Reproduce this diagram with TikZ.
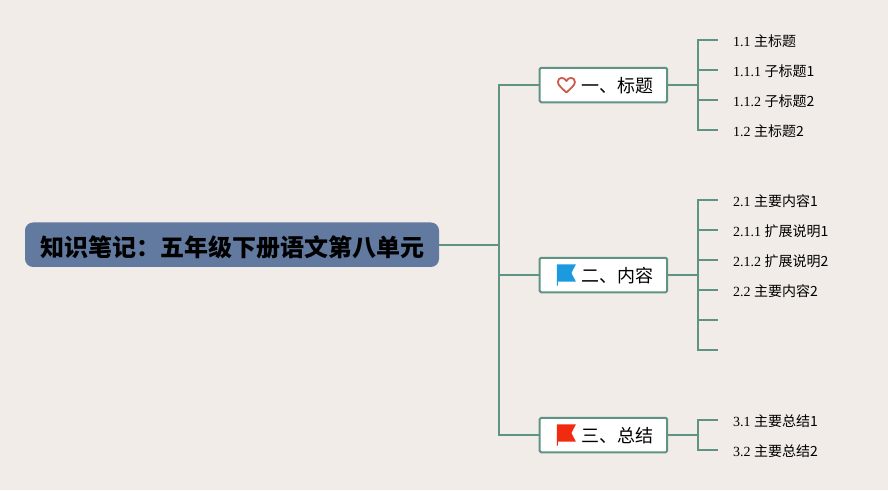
\documentclass[tikz,border=0pt]{standalone}
\usepackage{fontspec}
\setmainfont{Liberation Serif}
\newfontfamily\cjk{Noto Sans CJK SC}
\definecolor{paper}{HTML}{F1ECE7}
\definecolor{rootblue}{HTML}{627AA0}
\definecolor{linkgreen}{HTML}{5F9484}
\definecolor{heartred}{HTML}{CB5B4D}
\definecolor{flagblue}{HTML}{1B9AE0}
\definecolor{flagred}{HTML}{F22A10}
\tikzset{
    flagicon/.pic={
        \fill[pic actions] (-9.5,-10.7) -- (9.5,-10.7) -- (5,-2) -- (9.5,6.7) -- (-8.5,6.7) -- (-8.5,10.7) -- (-9.5,10.7) -- cycle;
    },
    hearticon/.pic={
        \draw[pic actions, line width=1.8pt, line join=round] (0,7.5)
            .. controls (-4,3.5) and (-8.5,0.5) .. (-8.5,-3)
            .. controls (-8.5,-8) and (-2,-8.5) .. (0,-4)
            .. controls (2,-8.5) and (8.5,-8) .. (8.5,-3)
            .. controls (8.5,0.5) and (4,3.5) .. (0,7.5) -- cycle;
    },
}
\begin{document}
\begin{tikzpicture}[
        x=1pt, y=-1pt,
        every node/.style={inner sep=0pt, outer sep=0pt},
        root/.style={fill=rootblue, rounded corners=8pt, minimum width=414pt, minimum height=44.5pt, text height=22.6pt, text depth=0pt, font=\cjk\bfseries\fontsize{24}{24}\selectfont},
        branch/.style={draw=linkgreen, fill=white, line width=2pt, rounded corners=1.5pt, minimum width=127.5pt, minimum height=34.5pt, text height=15pt, text depth=0pt, font=\cjk\fontsize{18}{18}\selectfont},
        leaf/.style={anchor=west, text height=13.4pt, text depth=0pt, font=\fontsize{14}{14}\selectfont},
        link/.style={draw=linkgreen, line width=2pt},
    ]
    \useasboundingbox (0,0) rectangle (888,490);
    \fill[paper] (0,0) rectangle (888,490);

    \node[root] (topic) at (232,244.7) {知识笔记：五年级下册语文第八单元};
    \coordinate (trunk) at (499,244.7);

    \node[branch] (title) at (603.4,85) {\hspace*{29pt}一、标题};
    \node[branch] (content) at (603.4,275) {\hspace*{29pt}二、内容};
    \node[branch] (summary) at (603.4,435) {\hspace*{29pt}三、总结};

    % icons in front of the branch texts
    \pic[heartred] at ([xshift=-37pt]title) {hearticon};
    \pic[flagblue] at ([xshift=-37pt]content) {flagicon};
    \pic[flagred] at ([xshift=-37pt]summary) {flagicon};

    \coordinate (titlefork) at (698,85);
    \coordinate (contentfork) at (698,275);
    \coordinate (summaryfork) at (698,435);

    \foreach \name/\ypos/\num/\txt in {a/40/1.1/主标题, b/70/1.1.1/子标题1, c/100/1.1.2/子标题2, d/130/1.2/主标题2}
        \node[leaf] (title\name) at (718,\ypos) {\hspace*{15pt}\num\ {\cjk\txt}};
    \foreach \name/\ypos/\num/\txt in {a/200/2.1/主要内容1, b/230/2.1.1/扩展说明1, c/260/2.1.2/扩展说明2, d/290/2.2/主要内容2}
        \node[leaf] (content\name) at (718,\ypos) {\hspace*{15pt}\num\ {\cjk\txt}};
    \node[leaf] (contente) at (718,320) {};
    \node[leaf] (contentf) at (718,350) {};
    \node[leaf] (summarya) at (718,420) {\hspace*{15pt}3.1 {\cjk 主要总结1}};
    \node[leaf] (summaryb) at (718,450) {\hspace*{15pt}3.2 {\cjk 主要总结2}};

    \draw[link] (topic.east) -- (trunk);
    \draw[link] (title.west) -| (trunk);
    \draw[link] (trunk) |- (content.west);
    \draw[link] (trunk) |- (summary.west);

    \draw[link] (title.east) -- (titlefork);
    \foreach \name in {a,b,c,d}
        \draw[link] (titlefork) |- (title\name.west);
    \draw[link] (content.east) -- (contentfork);
    \foreach \name in {a,b,c,d,e,f}
        \draw[link] (contentfork) |- (content\name.west);
    \draw[link] (summary.east) -- (summaryfork);
    \foreach \name in {a,b}
        \draw[link] (summaryfork) |- (summary\name.west);
\end{tikzpicture}
\end{document}
